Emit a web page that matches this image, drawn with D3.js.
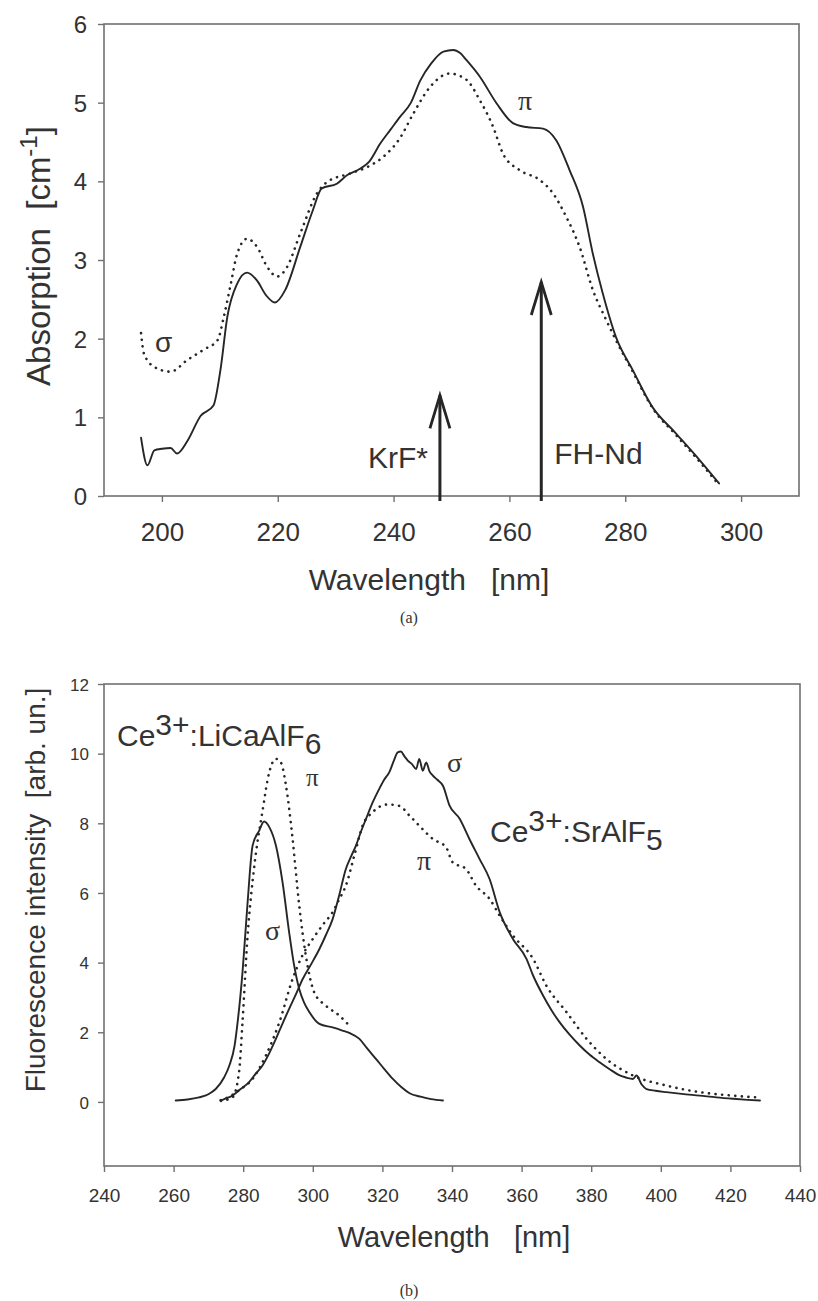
<!DOCTYPE html>
<html><head><meta charset="utf-8">
<script src="https://cdn.jsdelivr.net/npm/d3@7"></script>
<style>body{margin:0;background:#fff;} svg{display:block;}</style>
</head><body>
<svg id="chart" width="818" height="1301"></svg>
<script>
// ---------- Panel (a): absorption ----------
const absXTicks = [200, 220, 240, 260, 280, 300];
const absYTicks = [0, 1, 2, 3, 4, 5, 6];
const absPiWl  = [196.4,197.5,198.7,200.0,201.5,202.6,204.4,206.7,208.9,210.1,211.3,213.0,214.7,216.4,218.0,219.5,221.3,223.9,226.0,227.6,230.2,232.0,234.2,235.8,237.7,239.5,241.1,243.0,244.6,246.5,248.6,250.3,251.5,252.6,254.9,257.8,260.6,262.9,265.8,268.1,270.4,272.7,274.4,276.1,278.4,281.3,284.7,288.7,292.8,296.2];
const absPiVal = [0.74,0.39,0.58,0.60,0.61,0.54,0.70,1.02,1.15,1.60,2.28,2.70,2.84,2.74,2.55,2.46,2.62,3.17,3.62,3.91,3.97,4.08,4.16,4.25,4.48,4.66,4.82,5.00,5.28,5.50,5.65,5.67,5.63,5.54,5.33,4.99,4.74,4.69,4.67,4.52,4.14,3.68,3.08,2.58,2.02,1.60,1.13,0.80,0.46,0.16];
const absSigmaWl  = [196.4,196.9,198.7,201.5,204.4,207.2,209.6,210.7,211.9,213.0,214.7,216.4,218.2,219.9,221.6,223.9,226.8,228.5,232.5,235.4,238.2,241.1,243.4,246.3,249.7,252.6,254.9,257.2,258.9,261.8,265.2,267.5,269.8,272.1,274.4,276.7,278.4,281.3,284.7,288.7,292.8,296.2];
const absSigmaVal = [2.07,1.81,1.64,1.58,1.73,1.86,1.98,2.28,2.70,3.08,3.27,3.17,2.91,2.79,2.91,3.34,3.85,3.99,4.10,4.18,4.31,4.55,4.86,5.20,5.37,5.29,5.03,4.69,4.35,4.14,4.02,3.85,3.55,3.17,2.62,2.24,1.98,1.58,1.12,0.78,0.44,0.14];
const arrowWl = [248, 265.5];
const arrowTop = [1.28, 2.72];
const arrowLabels = ["KrF*", "FH-Nd"];

// ---------- Panel (b): fluorescence ----------
const flXTicks = [240, 260, 280, 300, 320, 340, 360, 380, 400, 420, 440];
const flYTicks = [0, 2, 4, 6, 8, 10, 12];
const licafSigmaWl  = [260.6,264,267.3,270,272.1,274.5,276,277.5,278.4,279.8,281.2,282.7,284.6,286.0,287.5,289.4,291.3,293.2,294.5,296.1,297.5,299.0,301.9,305.7,308.5,310.5,313.4,315.5,318.2,320.5,323.0,325.5,327.8,331,334,337.4];
const licafSigmaVal = [0.04,0.07,0.13,0.22,0.37,0.70,1.04,1.60,2.29,3.72,5.64,7.36,7.79,8.05,7.89,7.36,6.31,4.87,4.00,3.24,2.85,2.58,2.24,2.14,2.05,1.98,1.81,1.55,1.23,0.95,0.66,0.42,0.25,0.15,0.08,0.04];
const licafPiWl  = [273.6,276.9,278.8,279.8,281.2,283.2,285.5,287.5,289.4,290.8,292.3,294.2,296.1,298.0,300.4,303.8,307.6,310.5];
const licafPiVal = [0.03,0.13,0.85,2.29,4.68,6.78,8.32,9.47,9.85,9.75,9.08,7.55,5.64,4.20,3.15,2.76,2.48,2.19];
const srafSigmaWl  = [273.6,275,276.9,279,281.7,283.5,285.5,287.5,289.4,291.3,293.2,295.2,297.1,299.5,301.9,303.8,305.7,307.5,309.5,311,312.4,313.8,315.3,317.2,319.1,320.5,322.0,323.3,324.4,325.3,326.3,327.3,328.5,329.7,330.6,331.6,332.6,333.5,334.5,335.8,337.4,339.3,342.2,345.0,347.9,350.8,353.7,357.5,361.4,363.3,366.2,368.5,370.9,373.8,376.7,379.5,382.4,385.3,388.2,390,392.0,393.0,394.5,395.9,398.5,401.6,406,411.2,416,420.8,425,428.5];
const srafSigmaVal = [0.04,0.10,0.18,0.35,0.57,0.80,1.04,1.40,1.81,2.25,2.67,3.10,3.53,3.95,4.39,4.80,5.25,5.90,6.69,7.05,7.36,7.75,8.13,8.60,8.99,9.25,9.47,9.80,10.04,10.06,9.93,9.80,9.70,9.56,9.85,9.51,9.75,9.50,9.37,9.25,9.08,8.51,8.13,7.55,6.98,6.40,5.45,4.68,4.11,3.63,3.05,2.65,2.29,1.93,1.62,1.36,1.14,0.94,0.76,0.70,0.66,0.76,0.50,0.37,0.32,0.28,0.23,0.18,0.13,0.09,0.06,0.04];
const srafPiWl  = [273.5,276,279,282.7,286.5,290.4,294.2,297,300.0,303,305.7,307.5,309.5,312,314.3,317.2,321.5,324.9,327.8,330.6,334.5,338.3,340.2,344.0,346.9,350.8,353.7,357.5,363.3,367.1,372.9,378.7,384.4,392.0,401.6,411.2,420.8,427.5];
const srafPiVal = [0.05,0.15,0.35,0.66,1.33,2.29,3.53,4.20,4.68,5.10,5.45,5.80,6.21,7.10,7.93,8.32,8.54,8.50,8.22,7.93,7.55,7.31,6.88,6.69,6.21,5.83,5.35,4.78,4.11,3.34,2.58,1.81,1.23,0.76,0.47,0.28,0.18,0.13];

// ---------- drawing ----------
const svg = d3.select('#chart');
const sans = "'Liberation Sans', Arial, sans-serif";
const serif = "'Liberation Serif', 'Times New Roman', serif";
const ink = '#262626';
const axisCol = '#707070';
const zip = (a, b) => a.map((v, i) => [v, b[i]]);

function frame(P, xs, ys, xTicks, yTicks, xFont, yFont, xLabY, yLabX) {
  const g = svg.append('g');
  g.append('rect').attr('x', P.left).attr('y', P.top)
    .attr('width', P.right - P.left).attr('height', P.bottom - P.top)
    .attr('fill', 'none').attr('stroke', axisCol).attr('stroke-width', 1.6);
  const gx = g.append('g').attr('transform', `translate(0,${P.bottom})`)
    .call(d3.axisBottom(xs).tickValues(xTicks).tickFormat(d3.format('d')).tickSize(6).tickSizeOuter(0));
  gx.select('.domain').remove();
  gx.selectAll('line').attr('stroke', axisCol).attr('stroke-width', 1.4);
  gx.selectAll('text').attr('y', xLabY).attr('dy', 0)
    .attr('font-family', sans).attr('font-size', xFont).attr('fill', '#333');
  const gy = g.append('g').attr('transform', `translate(${P.left},0)`)
    .call(d3.axisLeft(ys).tickValues(yTicks).tickFormat(d3.format('d')).tickSize(6).tickSizeOuter(0));
  gy.select('.domain').remove();
  gy.selectAll('line').attr('stroke', axisCol).attr('stroke-width', 1.4);
  gy.selectAll('text').attr('x', yLabX).attr('dy', '0.36em')
    .attr('font-family', sans).attr('font-size', yFont).attr('fill', '#333');
  return g;
}

function curve(g, xs, ys, wl, val, dotted) {
  const line = d3.line().x(d => xs(d[0])).y(d => ys(d[1])).curve(d3.curveMonotoneX);
  g.append('path').attr('d', line(zip(wl, val)))
    .attr('fill', 'none').attr('stroke', ink)
    .attr('stroke-width', dotted ? 2.6 : 1.9)
    .attr('stroke-linecap', 'round').attr('stroke-linejoin', 'round')
    .attr('stroke-dasharray', dotted ? '0.1,6.5' : null);
}

// ---- Panel (a)
const A = {left:104, right:799, top:24, bottom:496};
const xA = d3.scaleLinear().domain([190, 310]).range([A.left, A.right]);
const yA = d3.scaleLinear().domain([0, 6]).range([A.bottom, A.top]);
const gA = frame(A, xA, yA, absXTicks, absYTicks, 26, 24, 45, -17);
curve(gA, xA, yA, absSigmaWl, absSigmaVal, true);
curve(gA, xA, yA, absPiWl, absPiVal, false);

arrowWl.forEach((w, i) => {
  const x = xA(w), yt = yA(arrowTop[i]);
  gA.append('line').attr('x1', x).attr('x2', x).attr('y1', A.bottom + 5).attr('y2', yt)
    .attr('stroke', ink).attr('stroke-width', 3);
  gA.append('path').attr('d', `M${x - 10},${yt + 33} L${x},${yt} L${x + 10},${yt + 33}`)
    .attr('fill', 'none').attr('stroke', ink).attr('stroke-width', 2.8)
    .attr('stroke-linejoin', 'miter');
  gA.append('text').text(arrowLabels[i])
    .attr('x', i === 0 ? x - 12 : x + 13).attr('y', i === 0 ? 468 : 464)
    .attr('text-anchor', i === 0 ? 'end' : 'start')
    .attr('font-family', sans).attr('font-size', 30).attr('fill', '#333');
});
gA.append('text').text('σ').attr('x', 155).attr('y', 352)
  .attr('font-family', sans).attr('font-size', 28).attr('fill', '#333');
gA.append('text').text('π').attr('x', 518).attr('y', 110)
  .attr('font-family', serif).attr('font-size', 28).attr('fill', '#333');

svg.append('text').attr('x', 429).attr('y', 590).attr('text-anchor', 'middle')
  .attr('font-family', sans).attr('font-size', 30).attr('fill', '#333')
  .attr('xml:space', 'preserve').text('Wavelength   [nm]');
const yt1 = svg.append('text').attr('transform', 'translate(50,256) rotate(-90)')
  .attr('text-anchor', 'middle').attr('font-family', sans).attr('font-size', 33)
  .attr('fill', '#333').attr('xml:space', 'preserve');
yt1.append('tspan').text('Absorption  [cm');
yt1.append('tspan').attr('dy', -13).attr('font-size', 24).text('-1');
yt1.append('tspan').attr('dy', 13).text(']');
svg.append('text').attr('x', 409).attr('y', 623).attr('text-anchor', 'middle')
  .attr('font-family', serif).attr('font-size', 16).attr('fill', '#333').text('(a)');

// ---- Panel (b)
const B = {left:104, right:800, top:684, bottom:1166};
const xB = d3.scaleLinear().domain([240, 440]).range([B.left, B.right]);
const yB = d3.scaleLinear().domain([-1.84, 12]).range([B.bottom, B.top]);
const gB = frame(B, xB, yB, flXTicks, flYTicks, 19, 17, 36, -15);
curve(gB, xB, yB, licafPiWl, licafPiVal, true);
curve(gB, xB, yB, srafPiWl, srafPiVal, true);
curve(gB, xB, yB, licafSigmaWl, licafSigmaVal, false);
curve(gB, xB, yB, srafSigmaWl, srafSigmaVal, false);

function formula(x, y, base, sup, rest, sub) {
  const t = svg.append('text').attr('x', x).attr('y', y)
    .attr('font-family', sans).attr('font-size', 30).attr('fill', '#333');
  t.append('tspan').text(base);
  t.append('tspan').attr('dy', -11).text(sup);
  t.append('tspan').attr('dy', 11).text(rest);
  t.append('tspan').attr('dy', 8).text(sub);
}
formula(117, 746, 'Ce', '3+', ':LiCaAlF', '6');
formula(490, 842, 'Ce', '3+', ':SrAlF', '5');

const ser = (txt, x, y, fs) => svg.append('text').text(txt).attr('x', x).attr('y', y)
  .attr('font-family', serif).attr('font-size', fs || 28).attr('fill', '#333');
ser('π', 306, 786, 25);
ser('σ', 265, 940);
ser('σ', 447, 772);
ser('π', 417, 870);

svg.append('text').attr('x', 454).attr('y', 1247).attr('text-anchor', 'middle')
  .attr('font-family', sans).attr('font-size', 29).attr('fill', '#333')
  .attr('xml:space', 'preserve').text('Wavelength   [nm]');
svg.append('text').attr('transform', 'translate(45,890) rotate(-90)')
  .attr('text-anchor', 'middle').attr('font-family', sans).attr('font-size', 28)
  .attr('fill', '#333').attr('xml:space', 'preserve')
  .text('Fluorescence intensity  [arb. un.]');
svg.append('text').attr('x', 409).attr('y', 1296).attr('text-anchor', 'middle')
  .attr('font-family', serif).attr('font-size', 16).attr('fill', '#333').text('(b)');
</script>
</body></html>
